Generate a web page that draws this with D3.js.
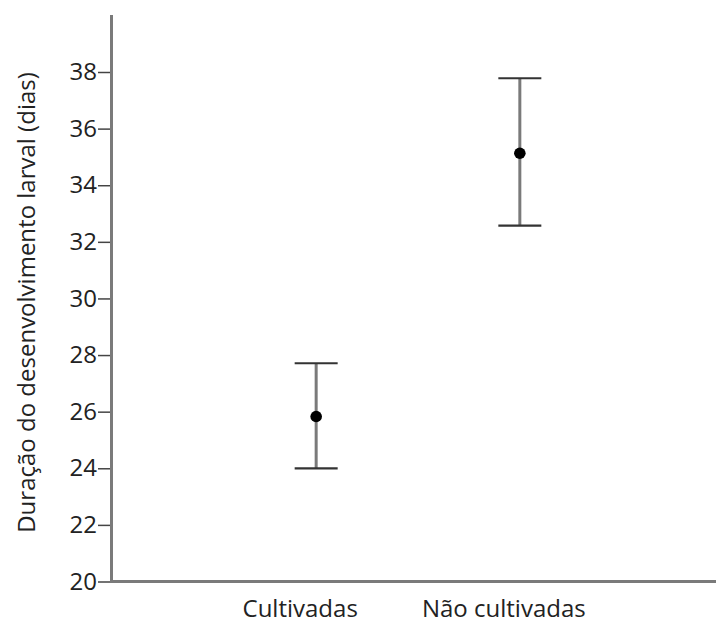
<!DOCTYPE html>
<html>
<head>
<meta charset="utf-8">
<script src="https://cdn.jsdelivr.net/npm/d3@7/dist/d3.min.js"></script>
<style>
  html, body { margin: 0; padding: 0; background: #fff; }
  svg { display: block; }
  text { font-family: "Open Sans", "Noto Sans", sans-serif; fill: #222; }
</style>
</head>
<body>
<svg id="chart" width="716" height="619"></svg>
<script>
// Larval development duration (days) by host plant group
const categories = ["Cultivadas", "Não cultivadas"];
const means = [25.83, 35.13];
const lowers = [24.0, 32.57];
const uppers = [27.71, 37.78];
const yTicks = [20, 22, 24, 26, 28, 30, 32, 34, 36, 38];
const yLabel = "Duração do desenvolvimento larval (dias)";

(function () {
  const svg = d3.select("#chart");
  const mLeft = 111.5, mRight = 716, mTop = 15, mBottom = 581.5;
  const fontSize = 24;
  const fontFamily = '"Open Sans", "Noto Sans", sans-serif';

  const y = d3.scaleLinear().domain([20, 38]).range([mBottom, 72]);
  const x = d3.scalePoint().domain(categories).range([96, 707]).padding(1);
  const dodge = 16.5;   // marks sit slightly right of the category label
  const capHalf = 21.5;

  // axis lines
  svg.append("line")
    .attr("x1", mLeft).attr("x2", mLeft).attr("y1", mTop).attr("y2", mBottom)
    .attr("stroke", "#7a7a7a").attr("stroke-width", 3);
  svg.append("line")
    .attr("x1", mLeft - 1.5).attr("x2", mRight).attr("y1", mBottom).attr("y2", mBottom)
    .attr("stroke", "#7a7a7a").attr("stroke-width", 3);

  // y ticks and labels
  const yAxis = d3.axisLeft(y).tickValues(yTicks).tickSize(12).tickPadding(1);
  const gy = svg.append("g").attr("transform", `translate(${mLeft - 1.5},0)`).call(yAxis);
  gy.select(".domain").remove();
  gy.selectAll(".tick line").attr("stroke", "#444").attr("stroke-width", 1.5);
  gy.selectAll(".tick text")
    .attr("font-size", fontSize).attr("fill", "#222")
    .style("font-family", fontFamily);

  // x category labels
  const xAxis = d3.axisBottom(x).tickSize(0).tickPadding(18.5);
  const gx = svg.append("g").attr("transform", `translate(0,${mBottom})`).call(xAxis);
  gx.select(".domain").remove();
  gx.selectAll(".tick text")
    .attr("font-size", fontSize).attr("fill", "#222")
    .style("font-family", fontFamily);

  // y axis title
  svg.append("text")
    .attr("transform", "translate(35,302.5) rotate(-90)")
    .attr("text-anchor", "middle")
    .attr("font-size", fontSize)
    .style("font-family", fontFamily)
    .text(yLabel);

  // error bars
  const data = categories.map((c, i) => ({ c, m: means[i], lo: lowers[i], hi: uppers[i] }));
  const g = svg.append("g");
  g.selectAll(".stem").data(data).join("line")
    .attr("x1", d => x(d.c) + dodge).attr("x2", d => x(d.c) + dodge)
    .attr("y1", d => y(d.hi)).attr("y2", d => y(d.lo))
    .attr("stroke", "#7a7a7a").attr("stroke-width", 3);
  ["hi", "lo"].forEach(k => {
    g.selectAll(".cap-" + k).data(data).join("line")
      .attr("x1", d => x(d.c) + dodge - capHalf).attr("x2", d => x(d.c) + dodge + capHalf)
      .attr("y1", d => y(d[k])).attr("y2", d => y(d[k]))
      .attr("stroke", "#333").attr("stroke-width", 2.2);
  });
  g.selectAll(".dot").data(data).join("circle")
    .attr("cx", d => x(d.c) + dodge).attr("cy", d => y(d.m))
    .attr("r", 5.8).attr("fill", "#000");
})();
</script>
</body>
</html>
